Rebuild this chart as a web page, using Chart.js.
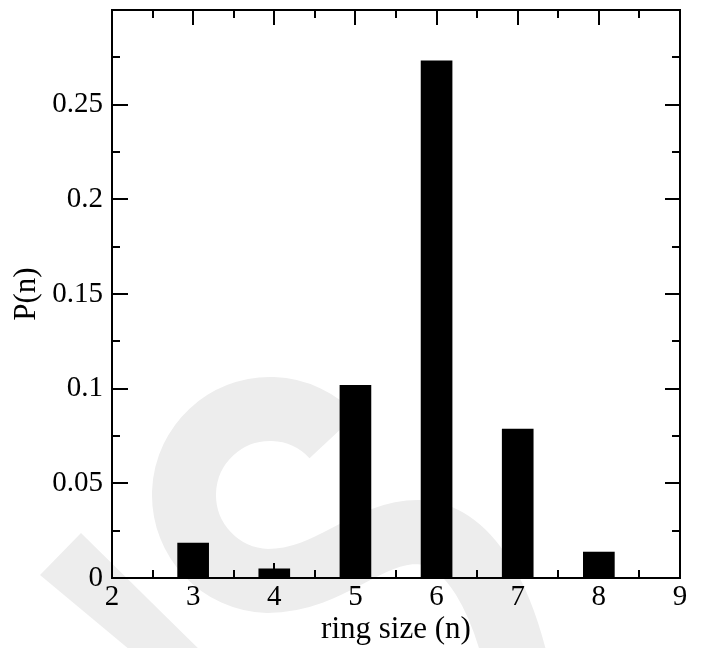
<!DOCTYPE html>
<html><head><meta charset="utf-8">
<style>html,body{margin:0;padding:0;background:#fff}#wrap{width:702px;height:648px}</style>
<script src="https://cdn.jsdelivr.net/npm/chart.js@4.4.1/dist/chart.umd.min.js"></script>
</head><body><div id="wrap"><canvas id="c" width="702" height="648"></canvas></div>
<script>
const ringSizes = [3, 4, 5, 6, 7, 8];
const probabilities = [0.0185, 0.0048, 0.1018, 0.2732, 0.0787, 0.0137];
const xTickValues = [2, 3, 4, 5, 6, 7, 8, 9];
const xTickLabels = ['2', '3', '4', '5', '6', '7', '8', '9'];
const yTickValues = [0, 0.05, 0.1, 0.15, 0.2, 0.25];
const yTickLabels = ['0', '0.05', '0.1', '0.15', '0.2', '0.25'];
const xTitle = 'ring size (n)';
const yTitle = 'P(n)';

const FONT = '"Liberation Serif", "Times New Roman", serif';

const watermark = {
  id: 'watermark',
  beforeDraw(chart) {
    const ctx = chart.ctx;
    ctx.save();
    ctx.fillStyle = '#ededed';
    ctx.strokeStyle = '#ededed';
    ctx.beginPath();
    ctx.moveTo(40, 575); ctx.lineTo(81, 533); ctx.lineTo(210, 660); ctx.lineTo(142, 660);
    ctx.closePath(); ctx.fill();
    ctx.lineWidth = 64; ctx.lineCap = 'butt';
    ctx.beginPath();
    ctx.arc(270, 495, 86, -0.75, 1.6, true);
    ctx.bezierCurveTo(330, 581, 365, 532, 418, 532);
    ctx.bezierCurveTo(470, 534, 505, 600, 522, 690);
    ctx.stroke();
    ctx.restore();
  }
};

const frameTicks = {
  id: 'frameTicks',
  afterDraw(chart) {
    const ctx = chart.ctx, a = chart.chartArea;
    const xs = chart.scales.x, ys = chart.scales.y;
    ctx.save();
    ctx.strokeStyle = '#000'; ctx.lineWidth = 2; ctx.lineCap = 'butt';
    ctx.strokeRect(a.left, a.top, a.right - a.left, a.bottom - a.top);
    const line = (x1, y1, x2, y2) => { ctx.beginPath(); ctx.moveTo(x1, y1); ctx.lineTo(x2, y2); ctx.stroke(); };
    const xStep = xTickValues[1] - xTickValues[0];
    xTickValues.forEach(v => {
      const p = Math.round(xs.getPixelForValue(v));
      line(p, a.bottom, p, a.bottom - 15); line(p, a.top, p, a.top + 15);
      const m = v + xStep / 2;
      if (m < xs.max) {
        const q = Math.round(xs.getPixelForValue(m));
        line(q, a.bottom, q, a.bottom - 8); line(q, a.top, q, a.top + 8);
      }
    });
    const yStep = yTickValues[1] - yTickValues[0];
    yTickValues.forEach(v => {
      const p = Math.round(ys.getPixelForValue(v));
      line(a.left, p, a.left + 16, p); line(a.right, p, a.right - 15, p);
      const m = v + yStep / 2;
      if (m < ys.max) {
        const q = Math.round(ys.getPixelForValue(m));
        line(a.left, q, a.left + 8, q); line(a.right, q, a.right - 8, q);
      }
    });
    ctx.restore();
  }
};

new Chart(document.getElementById('c'), {
  type: 'bar',
  data: {
    datasets: [{
      data: ringSizes.map((x, i) => ({ x: x, y: probabilities[i] })),
      backgroundColor: '#000',
      borderWidth: 0,
      barThickness: 31
    }]
  },
  options: {
    responsive: false,
    animation: false,
    layout: { padding: { top: 10, right: 22, left: 0, bottom: 0 } },
    plugins: { legend: { display: false }, tooltip: { enabled: false } },
    scales: {
      x: {
        type: 'linear', min: 2, max: 9, offset: false,
        afterBuildTicks: s => { s.ticks = xTickValues.map(v => ({ value: v })); },
        ticks: { autoSkip: false, maxRotation: 0, padding: 2, color: '#000',
                 font: { family: FONT, size: 29 }, callback: (v, i) => xTickLabels[i] },
        grid: { display: false, drawTicks: false },
        border: { display: false },
        title: { display: true, text: xTitle, color: '#000',
                 font: { family: FONT, size: 31, lineHeight: 1 }, padding: { top: 0, bottom: 3 } },
        afterFit: s => { s.height = 70; s.paddingLeft = 0; s.paddingRight = 0; }
      },
      y: {
        min: 0, max: 0.3,
        afterBuildTicks: s => { s.ticks = yTickValues.map(v => ({ value: v })); },
        ticks: { padding: 9, color: '#000', font: { family: FONT, size: 29 },
                 callback: (v, i) => yTickLabels[i] },
        grid: { display: false, drawTicks: false },
        border: { display: false },
        title: { display: true, text: yTitle, color: '#000',
                 font: { family: FONT, size: 31, lineHeight: 1 }, padding: { top: 11, bottom: 0 } },
        afterFit: s => { s.width = 112; s.paddingTop = 0; s.paddingBottom = 0; }
      }
    }
  },
  plugins: [watermark, frameTicks]
});
</script>
</body></html>
